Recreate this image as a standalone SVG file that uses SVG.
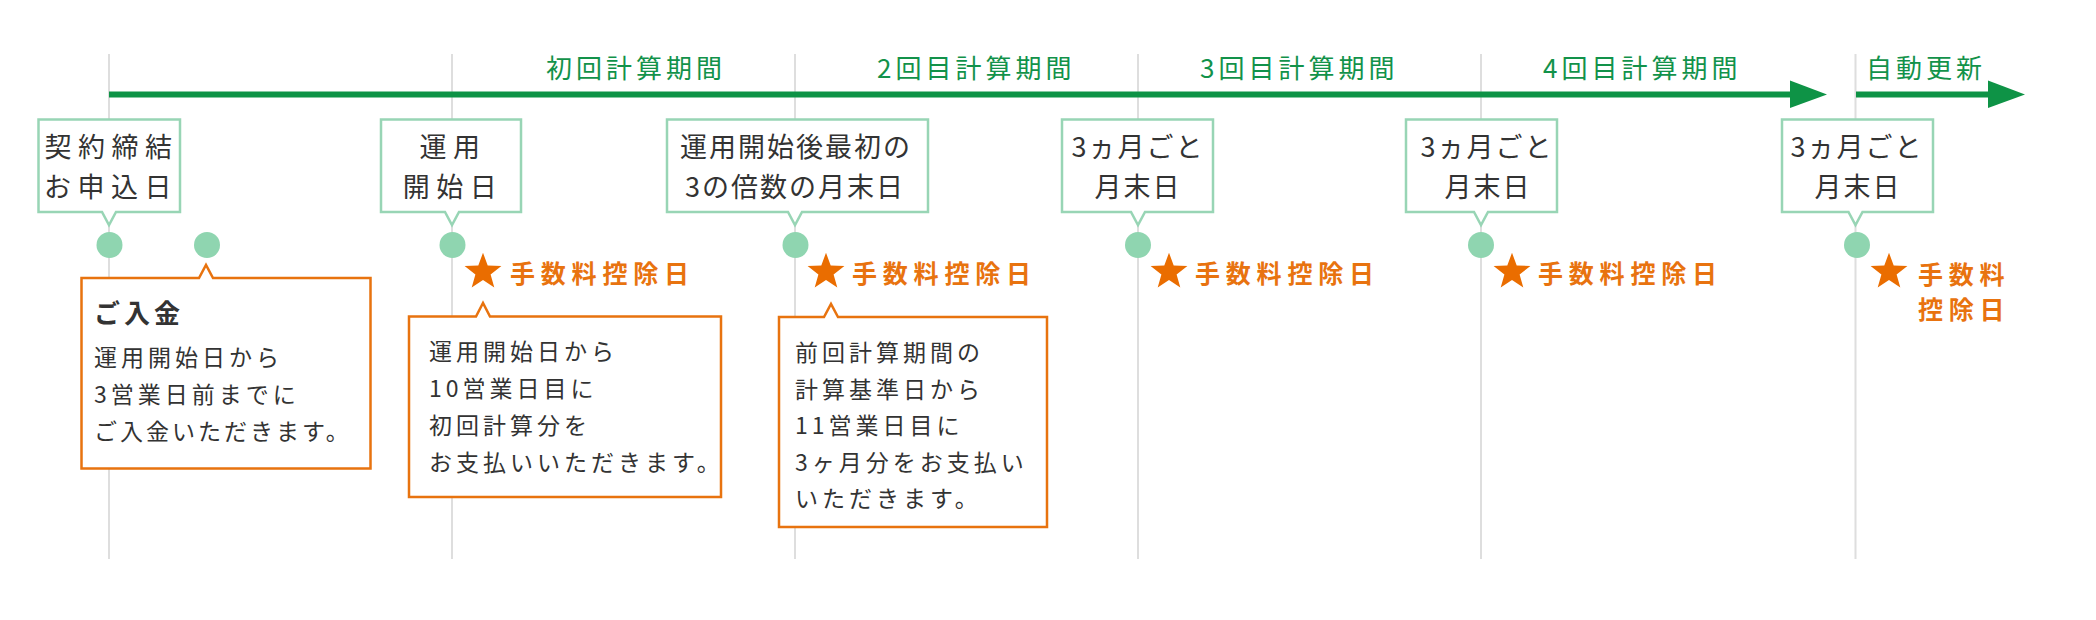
<svg xmlns="http://www.w3.org/2000/svg" width="2096" height="620" viewBox="0 0 2096 620">
<style>
text{font-family:"Noto Sans CJK JP","Noto Sans",sans-serif;}
.hd{font-size:26px;fill:#12924a;letter-spacing:4px;}
.tb{fill:#fff;stroke:#98d5b5;stroke-width:2.5;}
.ob{fill:#fff;stroke:#e8730f;stroke-width:2.5;}
.tt{font-size:27px;fill:#333;text-anchor:middle;}
.bt{font-size:23px;fill:#333;letter-spacing:4px;}
.bh{font-size:26px;fill:#333;font-weight:bold;letter-spacing:4px;}
.fee{font-size:25px;fill:#e8730f;font-weight:bold;letter-spacing:5.8px;}
.dot{fill:#8fd5b0;}
.star{fill:#ea6d00;}
.guide{stroke:#dedede;stroke-width:2;}
.bar{fill:#0e9346;}
</style>
<defs>
<polygon id="star" points="0,-19.3 4.7,-6.5 18.4,-6 7.6,2.5 11.3,15.6 0,8 -11.3,15.6 -7.6,2.5 -18.4,-6 -4.7,-6.5"/>
</defs>

<g id="guides">
<line class="guide" x1="109" y1="54" x2="109" y2="559"/>
<line class="guide" x1="452" y1="54" x2="452" y2="559"/>
<line class="guide" x1="795" y1="54" x2="795" y2="559"/>
<line class="guide" x1="1138" y1="54" x2="1138" y2="559"/>
<line class="guide" x1="1481" y1="54" x2="1481" y2="559"/>
<line class="guide" x1="1855.5" y1="54" x2="1855.5" y2="559"/>
</g>

<g id="connectors">
<rect class="bar" x="109" y="91.5" width="1683" height="6"/>
<polygon class="bar" points="1790,80.5 1827,94.5 1790,108"/>
<rect class="bar" x="1856" y="91.5" width="134" height="6"/>
<polygon class="bar" points="1988,80.5 2025,94.5 1988,108"/>
</g>

<g id="period-labels">
<text class="hd" x="546" y="78">初回計算期間</text>
<text class="hd" x="877" y="78">2回目計算期間</text>
<text class="hd" x="1200" y="78">3回目計算期間</text>
<text class="hd" x="1543" y="78">4回目計算期間</text>
<text class="hd" x="1866" y="78">自動更新</text>
</g>

<g id="node-contract">
<path class="tb" d="M38.5,119.5 H180 V212 H116 L109,225 L102,212 H38.5 Z"/>
<text class="tt" style="letter-spacing:6.5px" x="111.5" y="157">契約締結</text>
<text class="tt" style="letter-spacing:6.5px" x="111" y="197">お申込日</text>
<circle class="dot" cx="109.5" cy="245" r="13"/>
</g>

<g id="node-payment">
<circle class="dot" cx="207" cy="245" r="13"/>
<path class="ob" d="M81.5,278 H199 L206,265 L213,278 H370.5 V468.5 H81.5 Z"/>
<text class="bh" x="94" y="323">ご入金</text>
<text class="bt" x="94" y="366">運用開始日から</text>
<text class="bt" x="94" y="403">3営業日前までに</text>
<text class="bt" style="letter-spacing:3px" x="94" y="440">ご入金いただきます。</text>
</g>

<g id="node-start">
<path class="tb" d="M381,119.5 H521 V212 H459 L452,225 L445,212 H381 Z"/>
<text class="tt" style="letter-spacing:6.5px" x="453" y="157">運用</text>
<text class="tt" style="letter-spacing:6.5px" x="453" y="197">開始日</text>
<circle class="dot" cx="452.5" cy="245" r="13"/>
<use href="#star" class="star" x="483" y="272"/>
<text class="fee" x="510" y="283">手数料控除日</text>
<path class="ob" d="M409,316.5 H476 L483,303 L490,316.5 H721 V497 H409 Z"/>
<text class="bt" x="429" y="360">運用開始日から</text>
<text class="bt" x="429" y="397">10営業日目に</text>
<text class="bt" x="429" y="434">初回計算分を</text>
<text class="bt" x="429" y="471">お支払いいただきます。</text>
</g>

<g id="node-first-quarter">
<path class="tb" d="M667,119.5 H928 V212 H802 L795,225 L788,212 H667 Z"/>
<text class="tt" style="letter-spacing:2px" x="796" y="157">運用開始後最初の</text>
<text class="tt" style="letter-spacing:2px" x="795" y="197">3の倍数の月末日</text>
<circle class="dot" cx="795.5" cy="245" r="13"/>
<use href="#star" class="star" x="826" y="272"/>
<text class="fee" x="852" y="283">手数料控除日</text>
<path class="ob" d="M779,317 H824 L831,304 L838,317 H1047 V527 H779 Z"/>
<text class="bt" x="795" y="361">前回計算期間の</text>
<text class="bt" x="795" y="398">計算基準日から</text>
<text class="bt" x="795" y="434">11営業日目に</text>
<text class="bt" x="795" y="471">3ヶ月分をお支払い</text>
<text class="bt" x="795" y="507">いただきます。</text>
</g>

<g id="node-q3">
<path class="tb" d="M1062,119.5 H1213 V212 H1145 L1138,225 L1131,212 H1062 Z"/>
<text class="tt" style="letter-spacing:2px" x="1138" y="157">3ヵ月ごと</text>
<text class="tt" style="letter-spacing:2px" x="1138" y="197">月末日</text>
<circle class="dot" cx="1138" cy="245" r="13"/>
<use href="#star" class="star" x="1169" y="272"/>
<text class="fee" x="1195" y="283">手数料控除日</text>
</g>

<g id="node-q4">
<path class="tb" d="M1406,119.5 H1557 V212 H1488 L1481,225 L1474,212 H1406 Z"/>
<text class="tt" style="letter-spacing:2px" x="1487" y="157">3ヵ月ごと</text>
<text class="tt" style="letter-spacing:2px" x="1488" y="197">月末日</text>
<circle class="dot" cx="1481" cy="245" r="13"/>
<use href="#star" class="star" x="1512" y="272"/>
<text class="fee" x="1538" y="283">手数料控除日</text>
</g>

<g id="node-renewal">
<path class="tb" d="M1782,119.5 H1933 V212 H1862.5 L1855.5,225 L1848.5,212 H1782 Z"/>
<text class="tt" style="letter-spacing:2px" x="1857" y="157">3ヵ月ごと</text>
<text class="tt" style="letter-spacing:2px" x="1858" y="197">月末日</text>
<circle class="dot" cx="1857" cy="245" r="13"/>
<use href="#star" class="star" x="1889" y="272"/>
<text class="fee" x="1918" y="284">手数料</text>
<text class="fee" x="1918" y="319">控除日</text>
</g>
</svg>
